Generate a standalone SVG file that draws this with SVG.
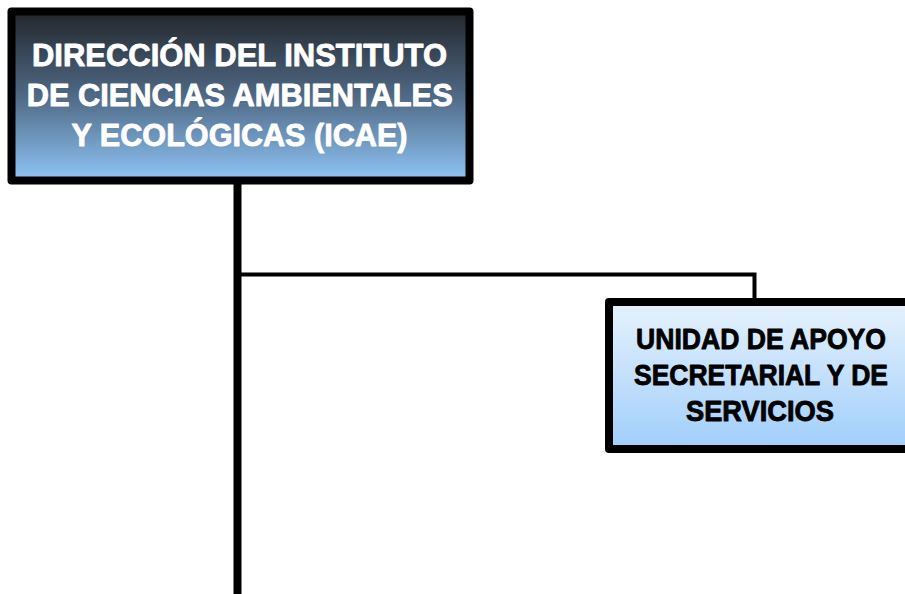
<svg xmlns="http://www.w3.org/2000/svg" width="905" height="594" viewBox="0 0 905 594">
<defs>
<linearGradient id="gTop" x1="0" y1="0" x2="0" y2="1">
<stop offset="0" stop-color="#22262b"/>
<stop offset="0.5" stop-color="#4f6985"/>
<stop offset="1" stop-color="#8fc5f6"/>
</linearGradient>
<linearGradient id="gSub" x1="0" y1="0" x2="0" y2="1">
<stop offset="0" stop-color="#e6f2fd"/>
<stop offset="1" stop-color="#a0cefa"/>
</linearGradient>
<style>
.box{stroke:#000;stroke-width:8;stroke-linejoin:round}
.t{font-family:"Liberation Sans",Arial,sans-serif;font-weight:bold;text-anchor:middle;stroke-width:0.9;stroke-linejoin:round}
.w{fill:#fff;stroke:#fff;font-size:32px}
.k{fill:#000;stroke:#000;font-size:30px}
.ln{stroke:#000;fill:none}
</style>
</defs>
<g id="connectors">
<line class="ln" x1="237.5" y1="180" x2="237.5" y2="594" stroke-width="8"/>
<polyline class="ln" points="241,274.5 754.5,274.5 754.5,300" stroke-width="4"/>
</g>
<g id="node-direccion">
<rect class="box" x="11.5" y="11.5" width="458" height="169" fill="url(#gTop)"/>
<text class="t w" x="239.5" y="66" textLength="415" lengthAdjust="spacingAndGlyphs">DIRECCIÓN DEL INSTITUTO</text>
<text class="t w" x="239.7" y="106" textLength="426" lengthAdjust="spacingAndGlyphs">DE CIENCIAS AMBIENTALES</text>
<text class="t w" x="239.5" y="146" textLength="336" lengthAdjust="spacingAndGlyphs">Y ECOLÓGICAS (ICAE)</text>
</g>
<g id="node-unidad">
<rect class="box" x="609" y="302" width="310" height="147" fill="url(#gSub)"/>
<text class="t k" x="761" y="348.5" textLength="250" lengthAdjust="spacingAndGlyphs">UNIDAD DE APOYO</text>
<text class="t k" x="761" y="385" textLength="254" lengthAdjust="spacingAndGlyphs">SECRETARIAL Y DE</text>
<text class="t k" x="760" y="421" textLength="148" lengthAdjust="spacingAndGlyphs">SERVICIOS</text>
</g>
</svg>
